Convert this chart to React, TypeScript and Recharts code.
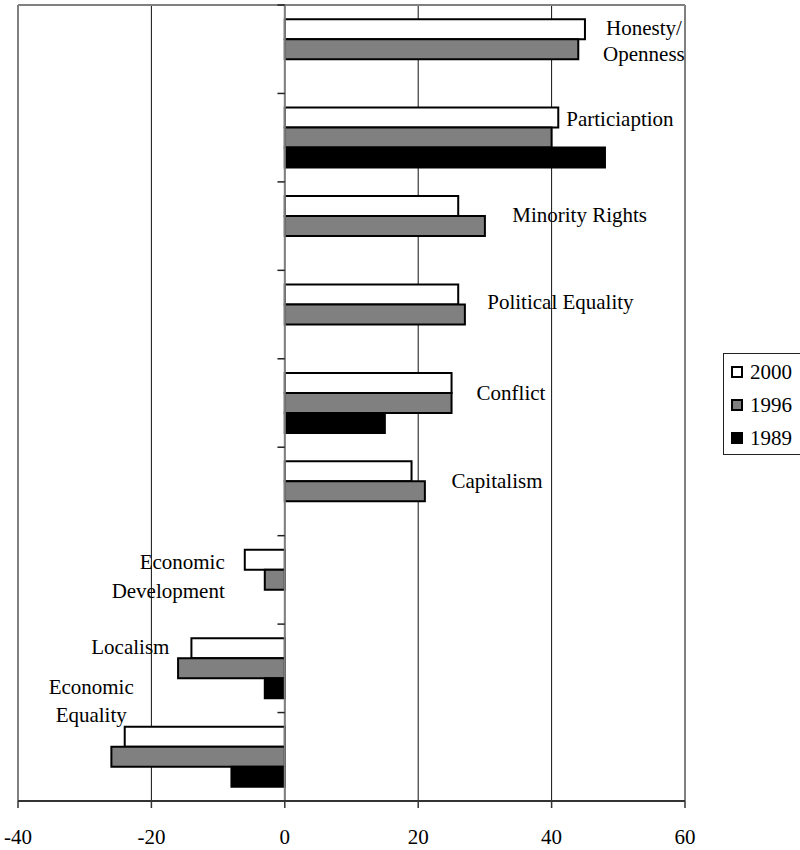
import React from 'react';
import {
  BarChart,
  Bar,
  XAxis,
  YAxis,
  CartesianGrid,
  ReferenceLine,
  Legend,
  LabelList,
} from 'recharts';

// ---- data ----
const categories = [
  'Honesty/Openness',
  'Particiaption',
  'Minority Rights',
  'Political Equality',
  'Conflict',
  'Capitalism',
  'Economic Development',
  'Localism',
  'Economic Equality',
];
const values2000 = [45, 41, 26, 26, 25, 19, -6, -14, -24];
const values1996 = [44, 40, 30, 27, 25, 21, -3, -16, -26];
const values1989: (number | null)[] = [null, 48, null, null, 15, null, null, -3, -8];
const seriesNames = ['2000', '1996', '1989'];
const xTicks = [-40, -20, 0, 20, 40, 60];
const labelLines = [
  ['Honesty/', 'Openness'],
  ['Particiaption'],
  ['Minority Rights'],
  ['Political Equality'],
  ['Conflict'],
  ['Capitalism'],
  ['Economic', 'Development'],
  ['Localism'],
  ['Economic', 'Equality'],
];

const data = categories.map((name, i) => ({
  name,
  s2000: values2000[i],
  s1996: values1996[i],
  s1989: values1989[i],
}));

// ---- styles / layout ----
const FONT = '"Liberation Serif", "Times New Roman", Times, serif';
const seriesFills = ['#ffffff', '#808080', '#000000'];

// label placement relative to the end of the 2000 bar
const labelLayout = [
  { anchor: 'middle', dx: 59, dy: 9, gap: 26 },
  { anchor: 'start', dx: 8, dy: 11, gap: 0 },
  { anchor: 'start', dx: 54, dy: 19, gap: 0 },
  { anchor: 'start', dx: 29, dy: 18, gap: 0 },
  { anchor: 'start', dx: 25, dy: 20, gap: 0 },
  { anchor: 'start', dx: 40, dy: 20, gap: 0 },
  { anchor: 'end', dx: -20, dy: 12, gap: 29 },
  { anchor: 'end', dx: -22, dy: 9, gap: 0 },
  { anchor: 'middle', dx: -33.5, dy: -40, gap: 28 },
];

const renderCatLabel = (props: any) => {
  const vb = props.viewBox || props;
  const x = Number(vb.x ?? props.x);
  const y = Number(vb.y ?? props.y);
  const w = Number(vb.width ?? props.width);
  const idx = categories.indexOf(props.value);
  if (idx < 0) return null;
  const v = values2000[idx];
  const end = v >= 0 ? Math.max(x, x + w) : Math.min(x, x + w);
  const L = labelLayout[idx];
  return (
    <g>
      {labelLines[idx].map((line, j) => (
        <text
          key={j}
          x={end + L.dx}
          y={y + L.dy + j * L.gap}
          textAnchor={L.anchor as any}
          dominantBaseline="central"
          style={{ fontFamily: FONT, fontSize: 21 }}
          fill="#000"
        >
          {line}
        </text>
      ))}
    </g>
  );
};

const renderXTick = (props: any) => {
  const { x, y, payload } = props;
  return (
    <text
      x={x}
      y={y}
      textAnchor="middle"
      dominantBaseline="central"
      style={{ fontFamily: FONT, fontSize: 21 }}
      fill="#000"
    >
      {payload.value}
    </text>
  );
};

const renderLegend = () => (
  <div
    style={{
      boxSizing: 'border-box',
      width: 85,
      height: 102,
      border: '1px solid #222',
      background: '#fff',
      paddingTop: 1,
      paddingLeft: 7,
      fontFamily: FONT,
      fontSize: 21,
      color: '#000',
    }}
  >
    {seriesNames.map((name, i) => (
      <div key={name} style={{ display: 'flex', alignItems: 'center', height: 33.3 }}>
        <div
          style={{
            boxSizing: 'border-box',
            width: 12,
            height: 12,
            border: '2px solid #000',
            background: seriesFills[i],
            marginRight: 7,
          }}
        />
        <span style={{ lineHeight: '24px', fontFamily: FONT }}>{name}</span>
      </div>
    ))}
  </div>
);

export default function App() {
  const last = categories[categories.length - 1];
  return (
    <div
      style={{
        position: 'absolute',
        left: 0,
        top: 0,
        width: 800,
        height: 850,
        overflow: 'hidden',
        background: '#fff',
        fontFamily: FONT,
      }}
    >
      <BarChart
        width={800}
        height={850}
        data={data}
        layout="vertical"
        margin={{ top: 5, right: 115, bottom: 0, left: 18 }}
        barGap={0}
        barCategoryGap="16%"
        style={{ fontFamily: FONT }}
      >
        <CartesianGrid horizontal={false} stroke="#111" strokeWidth={1} />
        <XAxis
          type="number"
          domain={[-40, 60]}
          ticks={xTicks}
          interval={0}
          allowDataOverflow
          height={49}
          tickSize={7}
          tickMargin={29}
          tick={renderXTick}
          axisLine={{ stroke: '#333', strokeWidth: 2 }}
          tickLine={{ stroke: '#333', strokeWidth: 1.5 }}
        />
        <YAxis type="category" dataKey="name" hide />
        <ReferenceLine x={-40} stroke="#808080" strokeWidth={2} />
        <ReferenceLine x={60} stroke="#808080" strokeWidth={2} />
        <ReferenceLine y={categories[0]} position="start" stroke="#808080" strokeWidth={2} />
        <ReferenceLine x={0} stroke="#808080" strokeWidth={2} />
        {categories.map((c) => (
          <ReferenceLine
            key={'tick-' + c}
            segment={[
              { x: -1.1, y: c },
              { x: 0, y: c },
            ]}
            position="start"
            stroke="#222"
            strokeWidth={1.5}
          />
        ))}
        <ReferenceLine
          segment={[
            { x: -1.1, y: last },
            { x: 0, y: last },
          ]}
          position="end"
          stroke="#222"
          strokeWidth={1.5}
        />
        <Legend
          layout="vertical"
          align="center"
          verticalAlign="middle"
          wrapperStyle={{ position: 'absolute', left: 723, top: 353, width: 85, height: 102 }}
          content={renderLegend}
        />
        <Bar
          dataKey="s2000"
          name={seriesNames[0]}
          fill={seriesFills[0]}
          stroke="#000"
          strokeWidth={2}
          isAnimationActive={false}
        >
          <LabelList dataKey="name" content={renderCatLabel} />
        </Bar>
        <Bar
          dataKey="s1996"
          name={seriesNames[1]}
          fill={seriesFills[1]}
          stroke="#000"
          strokeWidth={2}
          isAnimationActive={false}
        />
        <Bar
          dataKey="s1989"
          name={seriesNames[2]}
          fill={seriesFills[2]}
          stroke="#000"
          strokeWidth={2}
          isAnimationActive={false}
        />
      </BarChart>
    </div>
  );
}
